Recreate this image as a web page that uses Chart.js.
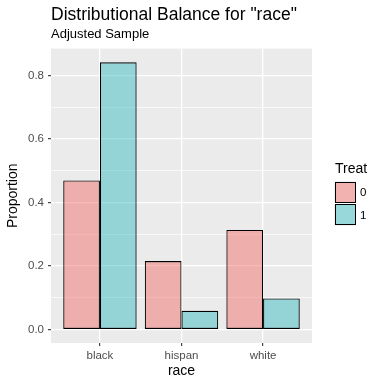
<!DOCTYPE html>
<html>
<head>
<meta charset="utf-8">
<script src="https://cdn.jsdelivr.net/npm/chart.js@4/dist/chart.umd.min.js"></script>
<style>
  body { margin: 0; background: #fff; }
  #wrap { position: relative; width: 384px; height: 384px; }
  #legend { position: absolute; left: 334px; top: 160px; font-family: "Liberation Sans", Arial, sans-serif; }
  #legend .ttl { font-size: 14px; color: #000; margin-left: 1px; line-height: 17px; margin-bottom: 4px; }
  #legend .row { display: flex; align-items: center; height: 22.5px; }
  #legend .key { width: 22px; height: 22px; background: #f2f2f2; position: relative; }
  #legend .key span { position: absolute; left: 0.5px; top: 0.5px; width: 21px; height: 21px; border: 1.2px solid #000; box-sizing: border-box; }
  #legend .lab { font-size: 11.5px; color: #000; margin-left: 4px; }
</style>
</head>
<body>
<div id="wrap">
  <canvas id="grafico" width="384" height="384"></canvas>
  <div id="legend"></div>
</div>
<script>
// datos
const categorias = ['black', 'hispan', 'white'];
const grupos = ['0', '1'];
const proporcionTreat0 = [0.470, 0.216, 0.314];
const proporcionTreat1 = [0.842, 0.059, 0.098];
const ticksY = [0, 0.1, 0.2, 0.3, 0.4, 0.5, 0.6, 0.7, 0.8];

const fuente = '"Liberation Sans", Arial, sans-serif';
const colores = ['rgba(240, 100, 96, 0.45)', 'rgba(30, 180, 185, 0.42)'];

// fondo gris del panel
const fondoPanel = {
    id: 'fondoPanel',
    beforeDraw(chart) {
        const { ctx, chartArea: a } = chart;
        ctx.save();
        ctx.fillStyle = '#EBEBEB';
        ctx.fillRect(a.left, a.top, a.right - a.left, a.bottom - a.top);
        ctx.restore();
    }
};

// leyenda en html a partir de los datasets
function renderizarLeyenda(chart) {
    const cont = document.getElementById('legend');
    let html = '<div class="ttl">Treat</div>';
    chart.data.datasets.forEach((ds) => {
        html += '<div class="row"><div class="key"><span style="background:' + ds.backgroundColor + '"></span></div><div class="lab">' + ds.label + '</div></div>';
    });
    cont.innerHTML = html;
}

const ctx = document.getElementById('grafico').getContext('2d');
const datos = [proporcionTreat0, proporcionTreat1];

const grafico = new Chart(ctx, {
    type: 'bar',
    data: {
        datasets: grupos.map((g, i) => ({
            label: g,
            data: datos[i].map((v, j) => ({ x: j + 1, y: v })),
            backgroundColor: colores[i],
            borderColor: '#000',
            borderWidth: 1.1,
            borderSkipped: false,
            categoryPercentage: 0.9,
            barPercentage: 1.0,
        })),
    },
    options: {
        responsive: false,
        animation: false,
        layout: { padding: { left: 0, right: 72, top: 0, bottom: 0 } },
        plugins: {
            legend: { display: false },
            tooltip: { enabled: false },
            title: {
                display: true,
                text: 'Distributional Balance for "race"',
                align: 'start',
                fullSize: false,
                color: '#000',
                font: { family: fuente, size: 17.5, weight: 'normal' },
                padding: { top: 5, bottom: 0 },
            },
            subtitle: {
                display: true,
                text: 'Adjusted Sample',
                align: 'start',
                fullSize: false,
                color: '#000',
                font: { family: fuente, size: 13 },
                padding: { top: 1, bottom: 6 },
            },
        },
        scales: {
            x: {
                type: 'linear',
                min: 0.4,
                max: 3.6,
                offset: false,
                afterBuildTicks: (s) => { s.ticks = categorias.map((c, i) => ({ value: i + 1 })); },
                afterFit: (s) => { s.height = 41; },
                grid: {
                    offset: false,
                    color: '#fff',
                    lineWidth: 1.3,
                    tickColor: '#333',
                    tickLength: 3,
                    tickWidth: 1.1,
                },
                border: { display: false },
                ticks: {
                    color: '#4D4D4D',
                    padding: 2.5,
                    font: { family: fuente, size: 11.5 },
                    callback: (v) => categorias[Math.round(v) - 1],
                },
                title: {
                    display: true,
                    text: 'race',
                    color: '#000',
                    font: { family: fuente, size: 14 },
                    padding: { top: 0, bottom: 4.6 },
                },
            },
            y: {
                min: -0.0422,
                max: 0.8852,
                afterBuildTicks: (s) => { s.ticks = ticksY.map((v) => ({ value: v })); },
                afterFit: (s) => { s.width = 51; },
                grid: {
                    color: '#fff',
                    lineWidth: (c) => (c.index % 2 === 0 ? 1.3 : 0.65),
                    tickColor: (c) => (c.index % 2 === 0 ? '#333' : 'rgba(0,0,0,0)'),
                    tickLength: 3,
                    tickWidth: 1.1,
                },
                border: { display: false },
                ticks: {
                    color: '#4D4D4D',
                    padding: 4,
                    font: { family: fuente, size: 11.5 },
                    callback: (v, i) => (i % 2 === 0 ? v.toFixed(1) : ''),
                },
                title: {
                    display: true,
                    text: 'Proportion',
                    color: '#000',
                    font: { family: fuente, size: 14 },
                    padding: { top: 4.7, bottom: 0 },
                },
            },
        },
    },
    plugins: [fondoPanel],
});

renderizarLeyenda(grafico);
</script>
</body>
</html>
